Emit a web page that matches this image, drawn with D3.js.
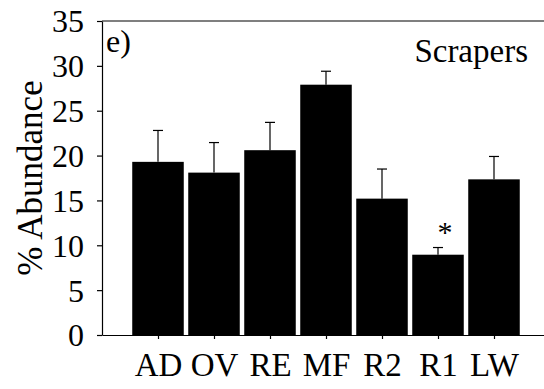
<!DOCTYPE html>
<html>
<head>
<meta charset="utf-8">
<style>
    body { margin: 0; background: white; }
</style>
</head>
<body>
<svg width="544" height="389"></svg>
<script src="https://d3js.org/d3.v7.min.js"></script>
<script>
    // data
    let sites = ["AD", "OV", "RE", "MF", "R2", "R1", "LW"];
    let means = [19.3, 18.1, 20.6, 27.9, 15.2, 8.95, 17.35];
    let errs = [3.5, 3.35, 3.1, 1.5, 3.3, 0.8, 2.55];
    let yTicks = [0, 5, 10, 15, 20, 25, 30, 35];
    let signif = ["R1"];

    let serif = "'Liberation Serif'";

    let svg = d3.select("svg");

    let plotLeft = 102, plotTop = 21, plotBottom = 335;

    // sites sit at 1..7 on a 0..8 axis, which runs past the right edge
    let x = d3.scaleLinear().domain([0, 8]).range([plotLeft, 550]);
    let y = d3.scaleLinear().domain([0, 35]).range([plotBottom, plotTop]);
    let step = x(1) - x(0);
    let barW = step * 0.92;

    // bars
    svg.selectAll(".bar")
        .data(sites)
        .join("rect")
        .attr("x", (d, i) => x(i + 1) - barW / 2)
        .attr("y", (d, i) => y(means[i]))
        .attr("width", barW)
        .attr("height", (d, i) => y(0) - y(means[i]))
        .style("fill", "#000");

    // error bars (upper only)
    let eb = svg.selectAll(".err")
        .data(sites)
        .join("g")
        .style("stroke", "#000")
        .style("stroke-width", 1.2);

    eb.append("line")
        .attr("x1", (d, i) => x(i + 1))
        .attr("x2", (d, i) => x(i + 1))
        .attr("y1", (d, i) => y(means[i]))
        .attr("y2", (d, i) => y(means[i] + errs[i]));

    eb.append("line")
        .attr("x1", (d, i) => x(i + 1) - 5)
        .attr("x2", (d, i) => x(i + 1) + 5)
        .attr("y1", (d, i) => y(means[i] + errs[i]))
        .attr("y2", (d, i) => y(means[i] + errs[i]));

    // y axis
    let yAxis = d3.axisLeft(y)
        .tickValues(yTicks)
        .tickSize(5)
        .tickPadding(13)
        .tickSizeOuter(0);

    let gy = svg.append("g")
        .attr("transform", "translate(" + plotLeft + ",0)")
        .call(yAxis)
        .attr("font-family", null)
        .attr("font-size", null);
    gy.select(".domain").style("stroke", "#000").style("stroke-width", 1.2);
    gy.selectAll(".tick line").style("stroke", "#000").style("stroke-width", 1.2);
    gy.selectAll(".tick text")
        .style("font-family", serif)
        .style("font-size", "32px")
        .attr("dy", "0.34em");

    // x axis
    let xAxis = d3.axisBottom(x)
        .tickValues(d3.range(1, 8))
        .tickFormat(d => sites[d - 1])
        .tickSize(4)
        .tickPadding(14)
        .tickSizeOuter(0);

    let gx = svg.append("g")
        .attr("transform", "translate(0," + plotBottom + ")")
        .call(xAxis)
        .attr("font-family", null)
        .attr("font-size", null);
    gx.select(".domain").style("stroke", "#000").style("stroke-width", 1.2);
    gx.selectAll(".tick line").style("stroke", "#000").style("stroke-width", 1.2);
    gx.selectAll(".tick text")
        .style("font-family", serif)
        .style("font-size", "33px");

    // top frame line
    svg.append("line")
        .attr("x1", plotLeft).attr("x2", 544)
        .attr("y1", plotTop).attr("y2", plotTop)
        .style("stroke", "#000")
        .style("stroke-width", 1.2);

    // y label
    svg.append("text")
        .attr("transform", "translate(41.5," + (y(0) + y(35)) / 2 + ") rotate(-90)")
        .attr("text-anchor", "middle")
        .style("font-family", serif)
        .style("font-size", "35px")
        .text("% Abundance");

    // panel letter and title
    svg.append("text")
        .attr("x", 106)
        .attr("y", 52)
        .style("font-family", serif)
        .style("font-size", "32px")
        .text("e)");

    svg.append("text")
        .attr("x", 528)
        .attr("y", 62)
        .attr("text-anchor", "end")
        .style("font-family", serif)
        .style("font-size", "33px")
        .text("Scrapers");

    // significance marker
    svg.selectAll(".star")
        .data(signif)
        .join("text")
        .attr("x", d => x(sites.indexOf(d) + 1) + 7)
        .attr("y", d => y(means[sites.indexOf(d)] + errs[sites.indexOf(d)]) - 6)
        .attr("text-anchor", "middle")
        .style("font-family", serif)
        .style("font-size", "30px")
        .text("*");
</script>
</body>
</html>
